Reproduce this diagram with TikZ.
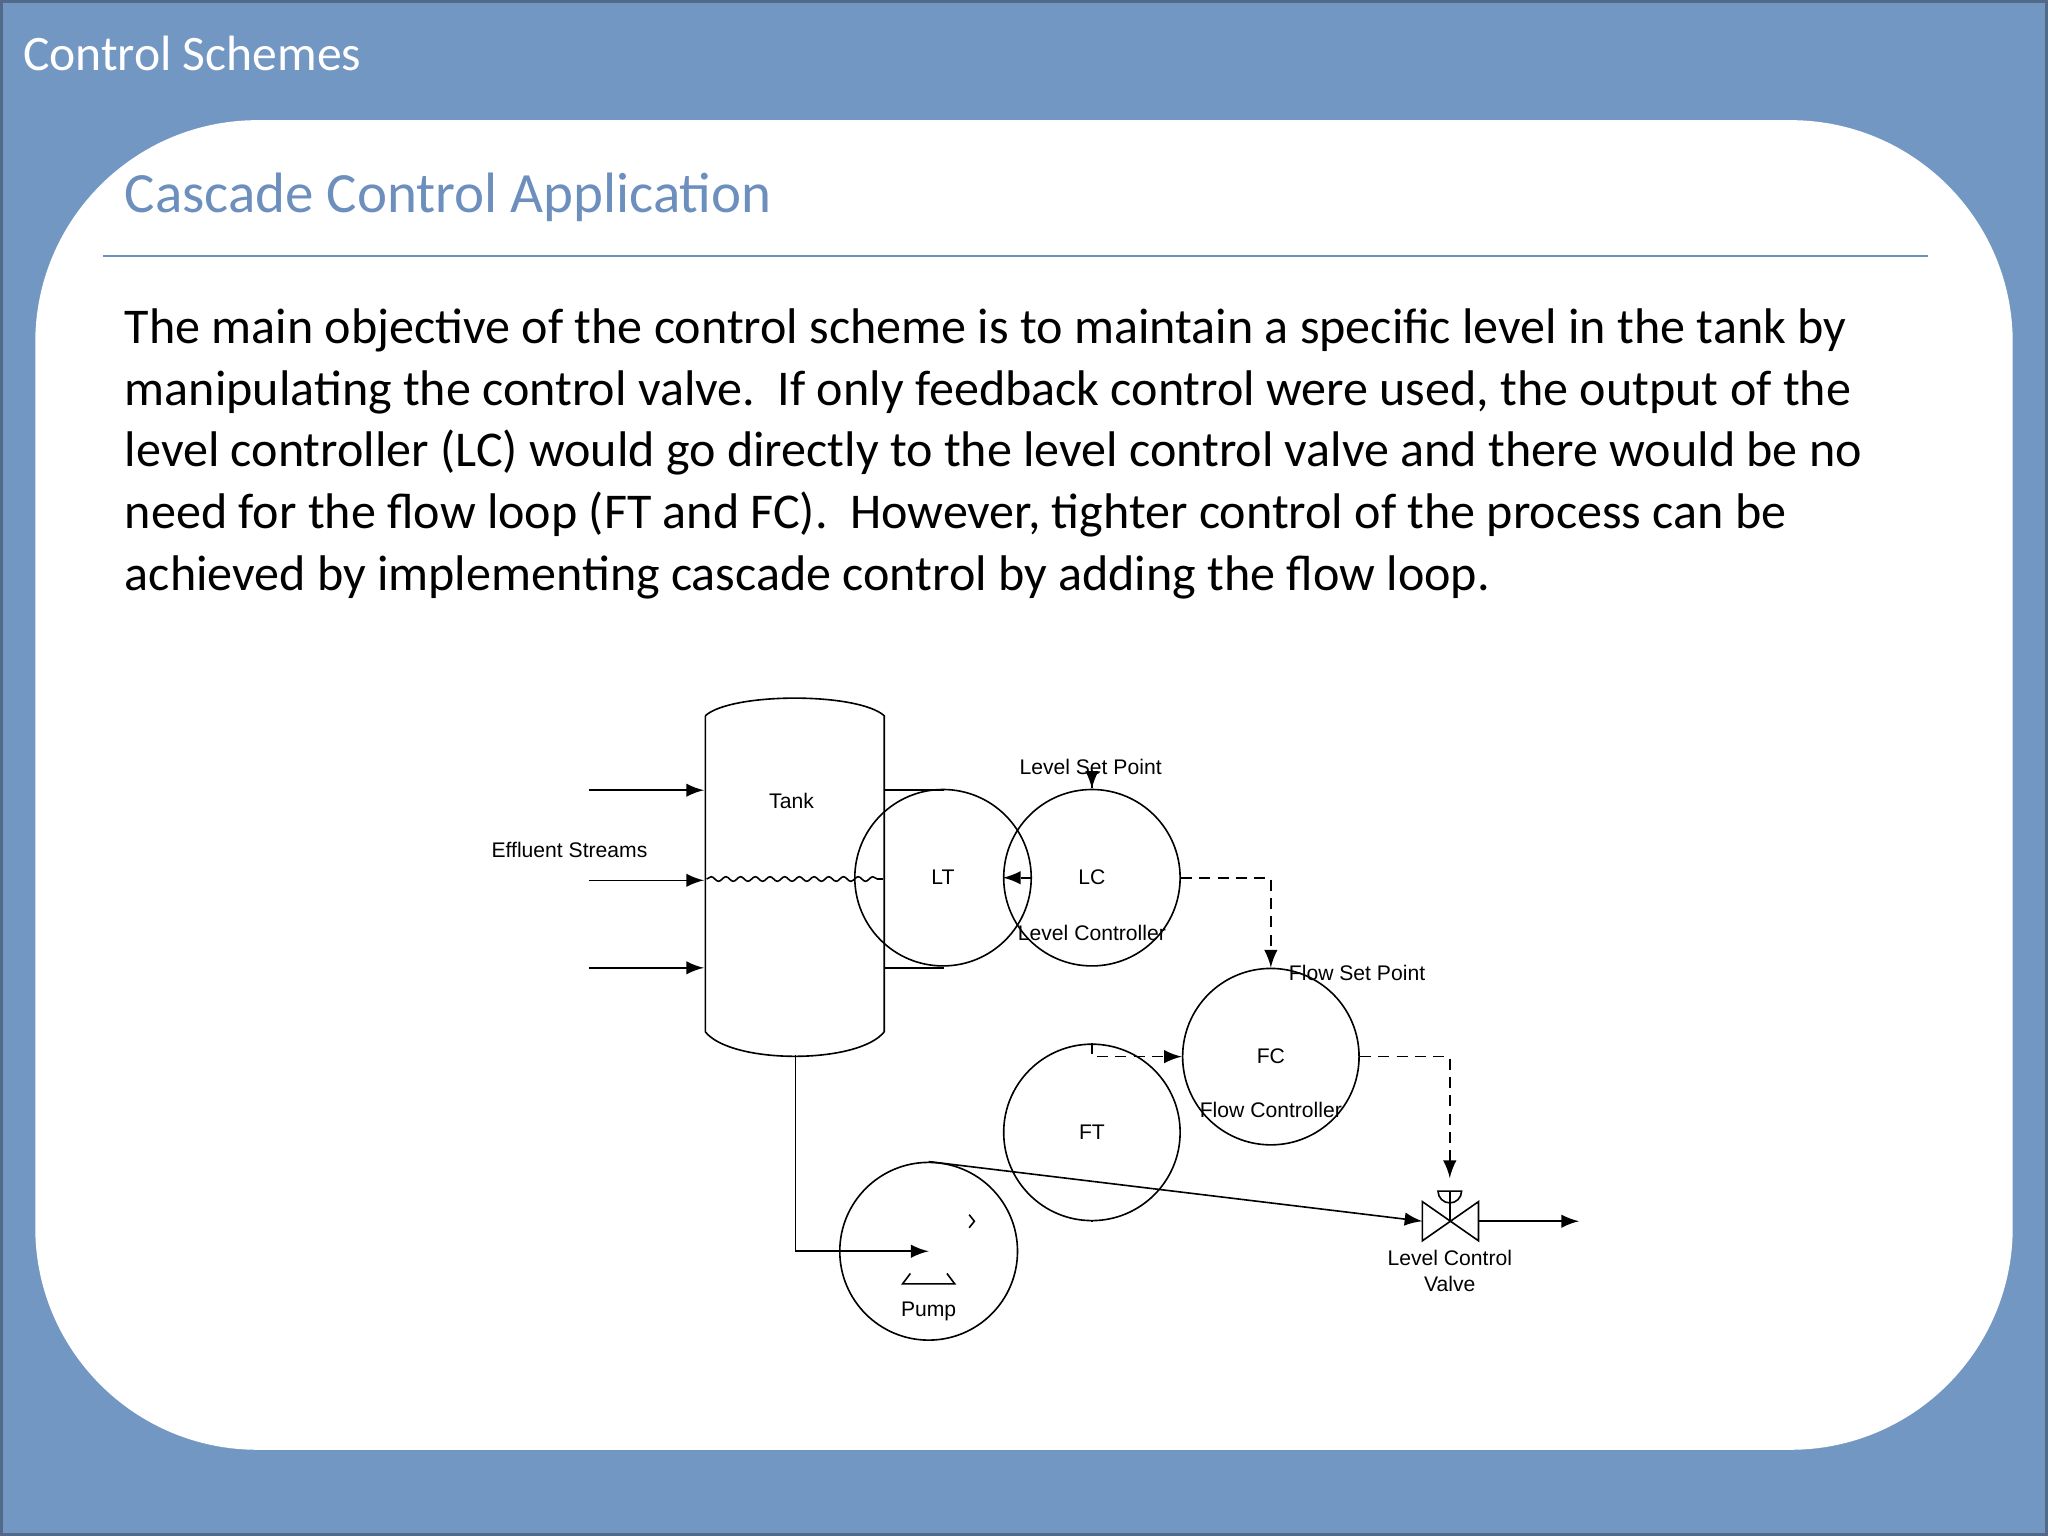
\documentclass[tikz,border=0pt]{standalone}
\usepackage{fontspec}
\setmainfont{Carlito}
\newfontfamily\diag{Liberation Sans}
\usetikzlibrary{positioning,calc,decorations.pathmorphing}
\definecolor{slideblue}{HTML}{7397C3}
\definecolor{headblue}{HTML}{6D8FBD}
\tikzset{
  inst/.style={draw,circle,minimum size=13.5mm,inner sep=0pt,font=\diag\fontsize{4.6}{5}\selectfont},
  lbl/.style={font=\diag\fontsize{4.6}{5.6}\selectfont,align=center,inner sep=0pt},
  sig/.style={dashed,dash pattern=on 2.4pt off 1.6pt,-latex},
  flow/.style={-latex},
  every path/.style={line width=0.35pt}
}
\begin{document}
\begin{tikzpicture}[x=0.01cm,y=-0.01cm]
\useasboundingbox (0,0) rectangle (1568,1176);
% slide frame
\fill[slideblue] (0,0) rectangle (1568,1176);
\draw[slideblue!70!black,line width=1pt] (0.5,0.5) rectangle (1567.5,1175.5);
\fill[white,rounded corners=1.7cm] (27,92) rectangle (1541,1110);
\node[anchor=base west,text=white,font=\fontsize{10.8}{13}\selectfont,inner sep=0pt] (title) at (17,54) {Control Schemes};
\node[anchor=base west,text=headblue,font=\fontsize{12.4}{15}\selectfont,inner sep=0pt] (head) at (95,163) {Cascade Control Application};
\draw[headblue,line width=0.5pt] (79,196) -- (1476,196);
\node[anchor=north west,align=left,font=\fontsize{10.9}{13.4}\selectfont,inner sep=0pt] (body) at (95,236) {The main objective of the control scheme is to maintain a specific level in the tank by\\
manipulating the control valve.\ \ If only feedback control were used, the output of the\\
level controller (LC) would go directly to the level control valve and there would be no\\
need for the flow loop (FT and FC).\ \ However, tighter control of the process can be\\
achieved by implementing cascade control by adding the flow loop.};

% tank
\draw (540,548) -- (540,790) .. controls (560,815) and (657,815) .. (677,790)
      -- (677,548) .. controls (657,530) and (560,530) .. (540,548);
\coordinate (tankB) at (609,808);
\draw[decorate,decoration={snake,amplitude=0.5pt,segment length=3.2pt}] (541,673) -- (676,673);
\node[lbl] (tank) at (606,613) {Tank};
\foreach \y in {605,674,741}
  \draw[flow] (451,\y) -- (539,\y);
\node[lbl] (effl) at (436,651) {Effluent Streams};

% instruments
\node[inst] (LT) at (722,672) {LT};
\node[inst] (LC) at (836,672) {LC};
\node[inst] (FC) at (973,809) {FC};
\node[inst] (FT) at (836,867) {FT};
\draw (677,605) -| (LT.north);
\draw (677,741) -| (LT.south);
\draw[sig] (LT) -- (LC);
\node[lbl] (lsp) at (835,587) {Level Set Point};
\draw[sig] (836,603) -- (LC.north);
\node[lbl] (lcl) at (836,714) {Level Controller};
\draw[sig] (LC.east) -| (FC.north);
\node[lbl] (fsp) at (1039,745) {Flow Set Point};
\node[lbl] (fcl) at (973,850) {Flow Controller};
\draw[sig] (FT.north) |- (FC.west);

% valve
\coordinate (V) at (1110,935);
\draw (1089,920) -- (1089,950) -- (1132,920) -- (1132,950) -- cycle;
\draw (1101,912) arc (180:0:9) -- cycle;
\draw (1110,912) -- (V);
\draw[sig] (FC.east) -| (1110,902);
\node[lbl] (vlbl) at (1110,973) {Level Control\\Valve};

% pump
\node[draw,circle,minimum size=13.6mm,inner sep=0pt] (pump) at (711,958) {};
\draw (697,975) -- (691,983) -- (731,983) -- (725,975);
\node[lbl] (plbl) at (711,1004) {Pump};
\draw[flow] (tankB) |- (pump.center);
\draw[flow] (pump.north) -- (1089,935);
\draw (742,930) -- (746,935) -- (742,940);
\draw (FT.south) -- (836,935);
\draw[flow] (1132,935) -- (1209,935);
\end{tikzpicture}
\end{document}
